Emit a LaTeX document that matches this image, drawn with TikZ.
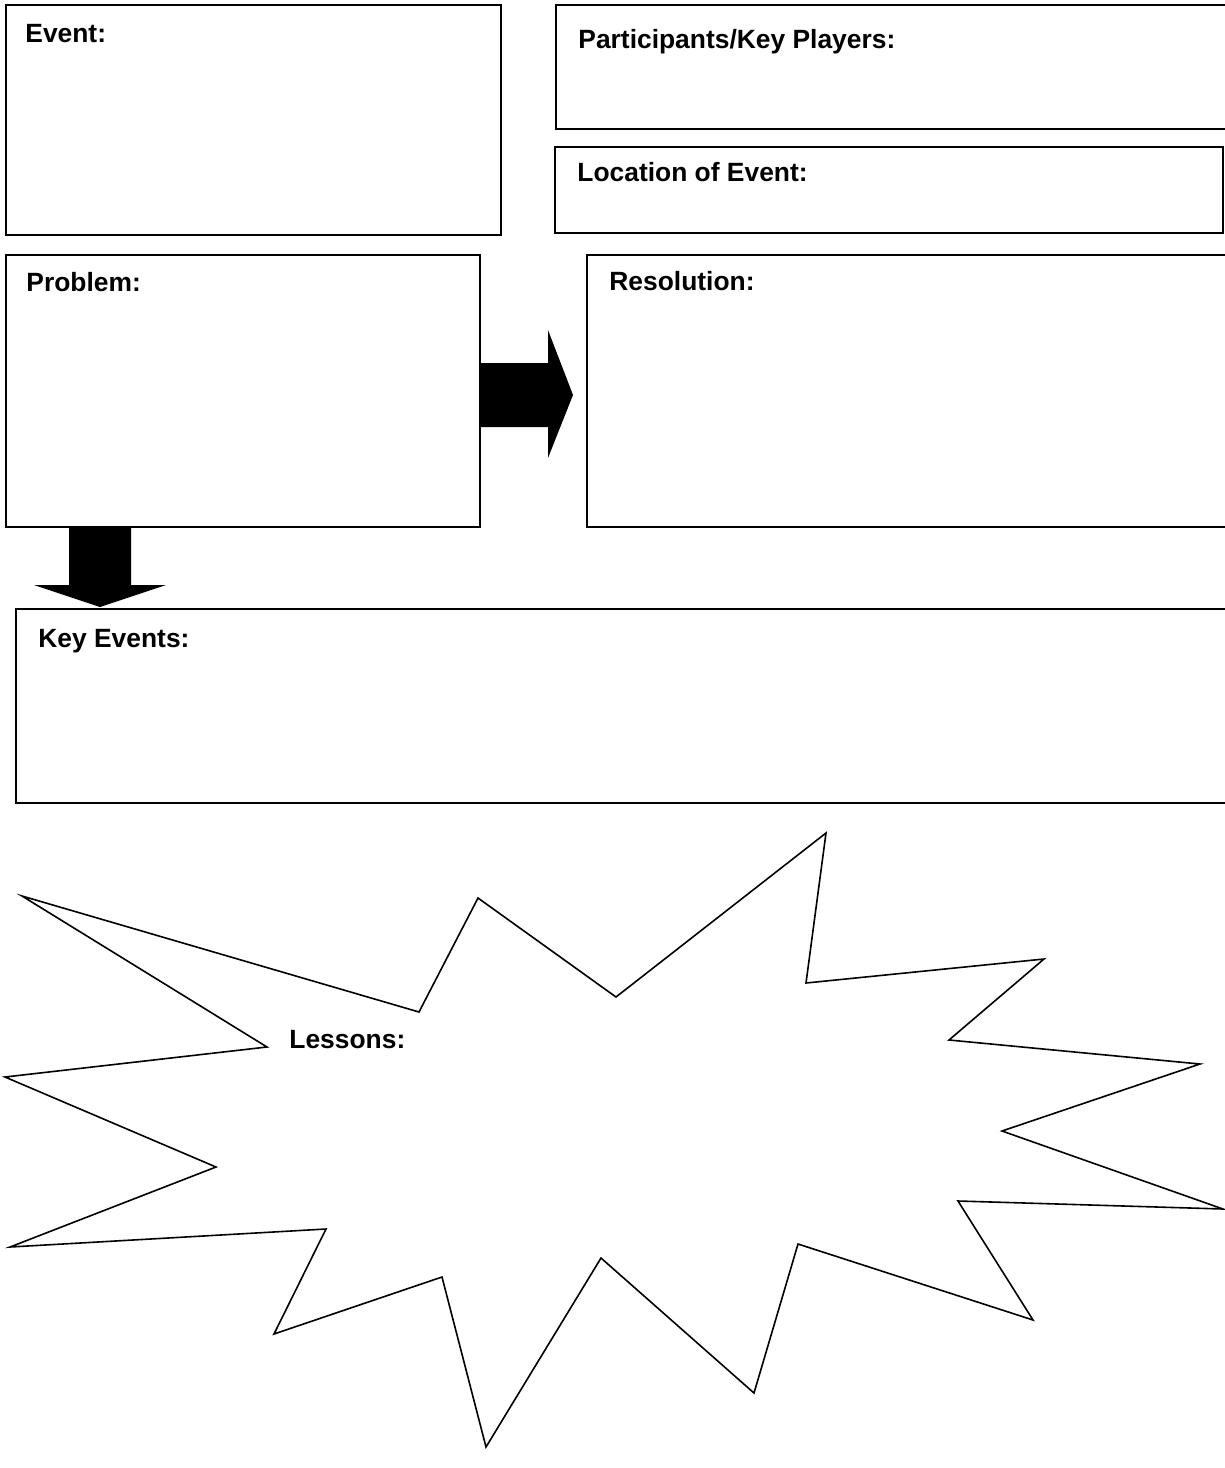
\documentclass[tikz,border=0pt]{standalone}
\usepackage{fontspec}
\setmainfont{Liberation Sans}
\tikzset{
  box/.style={draw, line width=1pt},
  head/.style={font=\bfseries\fontsize{13.2}{15}\selectfont, inner sep=0pt, anchor=base west},
  burst/.style={draw, line width=0.8pt, line join=miter}
}

\begin{document}
\begin{tikzpicture}[x=0.5pt, y=-0.5pt]
    \clip (0,0) rectangle (1225,1468);
    % boxes
    \draw[box] (6,5) rectangle (501,235);
    \draw[box] (556,5) rectangle (1240,129);
    \draw[box] (555,147) rectangle (1223,233);
    \draw[box] (6,255) rectangle (480,527);
    \draw[box] (587,255) rectangle (1240,527);
    \draw[box] (16,609) rectangle (1240,803);
    % headings
    \node[head] (event) at (25,42) {Event:};
    \node[head] (players) at (578,48) {Participants/Key Players:};
    \node[head] (location) at (577,181) {Location of Event:};
    \node[head] (problem) at (26,291) {Problem:};
    \node[head] (resolution) at (609,290) {Resolution:};
    \node[head] (keyevents) at (38,647) {Key Events:};
    % block arrows
    \fill (480,363) -- (548,363) -- (548,330) -- (573,395) -- (548,458)
        -- (548,427) -- (480,427) -- cycle;
    \fill (69,527) -- (131,527) -- (131,585) -- (166,585) -- (100,607)
        -- (34,585) -- (69,585) -- cycle;
    % lessons burst
    \draw[burst] (22,896) -- (419,1012) -- (478,898) -- (616,997) -- (826,833)
        -- (806,983) -- (1044,959) -- (949,1040) -- (1200,1064) -- (1002,1131)
        -- (1223,1209) -- (958,1201) -- (1033,1320) -- (798,1244) -- (754,1393)
        -- (601,1258) -- (486,1447) -- (442,1277) -- (274,1334) -- (326,1229)
        -- (10,1247) -- (216,1167) -- (5,1077) -- (267,1047) -- cycle;
    \node[head] (lessons) at (289,1048) {Lessons:};
\end{tikzpicture}
\end{document}
